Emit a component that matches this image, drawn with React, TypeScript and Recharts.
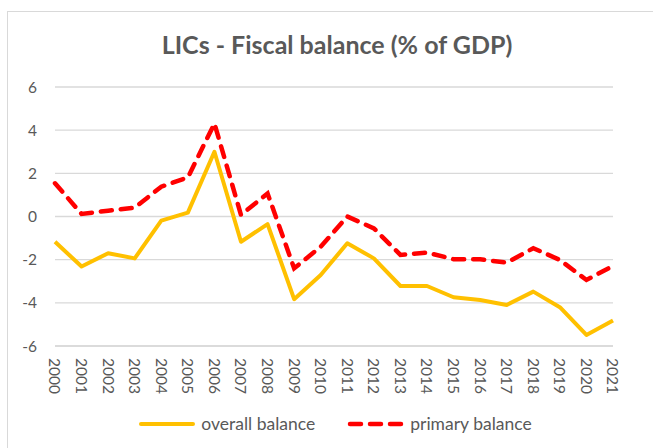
import React from 'react';
import { LineChart, Line, XAxis, YAxis, CartesianGrid, Legend } from 'recharts';

const years = ['2000','2001','2002','2003','2004','2005','2006','2007','2008','2009','2010','2011','2012','2013','2014','2015','2016','2017','2018','2019','2020','2021'];
const overallBalance = [-1.17, -2.32, -1.70, -1.94, -0.19, 0.18, 3.0, -1.17, -0.35, -3.83, -2.71, -1.24, -1.94, -3.22, -3.22, -3.74, -3.87, -4.10, -3.48, -4.2, -5.49, -4.82];
const primaryBalance = [1.54, 0.12, 0.27, 0.41, 1.38, 1.81, 4.31, 0.07, 1.07, -2.4, -1.4, 0.0, -0.55, -1.78, -1.67, -1.98, -1.98, -2.14, -1.47, -2.01, -2.94, -2.29];
const yTicks = [-6, -4, -2, 0, 2, 4, 6];
const title = 'LICs - Fiscal balance (% of GDP)';

const data = years.map((y, i) => ({ year: y, overall: overallBalance[i], primary: primaryBalance[i] }));

const FONT = "Lato, 'Open Sans', sans-serif";
const TEXT = '#595959';
const GRID = '#D9D9D9';

const XTick = (props: any) => {
  const { x, y, payload } = props;
  return (
    <text
      x={x}
      y={y + 4}
      dy="0.36em"
      transform={`rotate(90, ${x}, ${y + 4})`}
      textAnchor="start"
      fill={TEXT}
      fontSize={15.5}
      fontFamily={FONT}
    >
      {payload.value}
    </text>
  );
};

const LegendContent = (props: any) => {
  const { payload } = props;
  return (
    <div style={{ display: 'flex', justifyContent: 'center', alignItems: 'center', fontFamily: FONT, fontSize: 17.5, color: TEXT }}>
      {(payload || []).map((p: any, i: number) => (
        <div key={i} style={{ display: 'flex', alignItems: 'center', marginRight: i === 0 ? 32 : 0 }}>
          <svg width={58} height={10} style={{ marginRight: 5 }}>
            <line
              x1={3}
              y1={5}
              x2={55}
              y2={5}
              stroke={p.color}
              strokeWidth={p.dataKey === 'primary' ? 4.5 : 4}
              strokeLinecap="round"
              strokeDasharray={p.dataKey === 'primary' ? '11 9' : undefined}
            />
          </svg>
          <span>{p.value}</span>
        </div>
      ))}
    </div>
  );
};

export default function App() {
  return (
    <div style={{ position: 'absolute', left: 0, top: 0, width: 653, height: 448, background: '#fff', overflow: 'hidden' }}>
      <div style={{ position: 'absolute', left: 6.5, top: 11, width: 700, height: 500, border: `1.5px solid ${GRID}`, boxSizing: 'border-box' }} />
      <div style={{ position: 'absolute', left: 0, top: 30, width: 674, textAlign: 'center', fontFamily: FONT, fontWeight: 700, fontSize: 25, color: TEXT, lineHeight: '29px' }}>
        {title}
      </div>
      <div style={{ position: 'absolute', left: 0, top: 0 }}>
        <LineChart width={653} height={448} data={data} margin={{ top: 87, right: 40, left: 0, bottom: 42 }}>
          <CartesianGrid vertical={false} stroke={GRID} strokeWidth={1.3} />
          <XAxis
            dataKey="year"
            height={60}
            interval={0}
            tickLine={false}
            axisLine={{ stroke: GRID, strokeWidth: 1.3 }}
            tick={<XTick />}
          />
          <YAxis
            width={55}
            domain={[-6, 6]}
            ticks={yTicks}
            interval={0}
            axisLine={false}
            tickLine={false}
            tickMargin={12}
            tick={{ fill: TEXT, fontSize: 15.5, fontFamily: FONT }}
          />
          <Legend
            layout="horizontal"
            verticalAlign="middle"
            align="center"
            wrapperStyle={{ left: 0, top: 413, width: 670 }}
            content={<LegendContent />}
          />
          <Line
            type="linear"
            dataKey="overall"
            name="overall balance"
            stroke="#FFC000"
            strokeWidth={4}
            dot={false}
            activeDot={false}
            strokeLinejoin="round"
            isAnimationActive={false}
          />
          <Line
            type="linear"
            dataKey="primary"
            name="primary balance"
            stroke="#FF0000"
            strokeWidth={4.5}
            strokeDasharray="11 9"
            strokeLinecap="round"
            dot={false}
            activeDot={false}
            isAnimationActive={false}
          />
        </LineChart>
      </div>
    </div>
  );
}
